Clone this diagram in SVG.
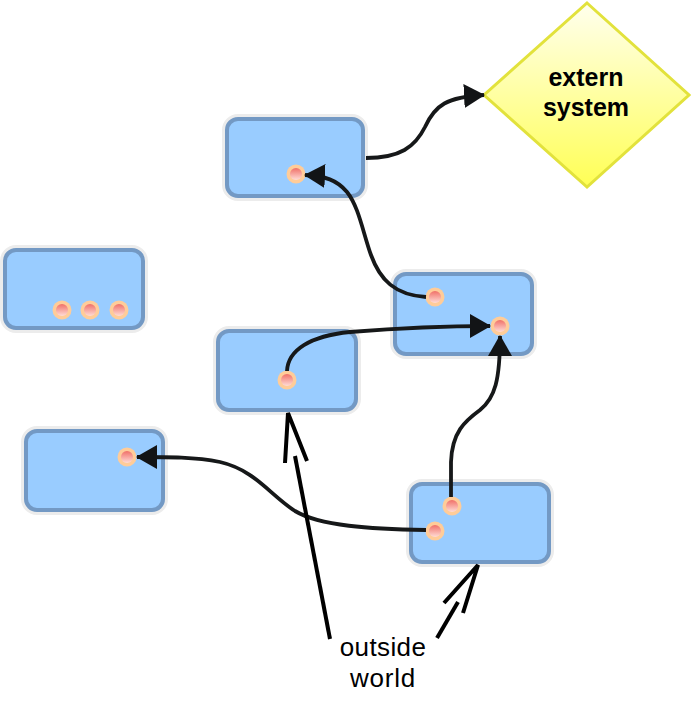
<svg xmlns="http://www.w3.org/2000/svg" width="691" height="724" viewBox="0 0 691 724">
<defs>
<linearGradient id="portGrad" x1="0" y1="0" x2="0" y2="1">
<stop offset="0" stop-color="#f07068"/>
<stop offset="1" stop-color="#ffdcd6"/>
</linearGradient>
<linearGradient id="diaGrad" x1="0" y1="0" x2="0" y2="1">
<stop offset="0" stop-color="#ffffee"/>
<stop offset="1" stop-color="#ffff55"/>
</linearGradient>
<marker id="arr" viewBox="0 0 21 24" refX="20" refY="12" markerWidth="21" markerHeight="24" markerUnits="userSpaceOnUse" orient="auto">
<path d="M0,0 L21,12 L0,24 Z" fill="#121416"/>
</marker>
</defs>
<style>
.halo{fill:none;stroke:#ececec;stroke-width:10}
.box{fill:#99ccff;stroke:#7399c4;stroke-width:4}
.port-o{fill:#ffcc99}
.port-i{fill:url(#portGrad)}
.conn{fill:none;stroke:#161819;stroke-width:3.8;stroke-linecap:butt}
.hand{fill:none;stroke:#000;stroke-width:4;stroke-linecap:butt}
.lbl{font-family:"Liberation Sans",Arial,sans-serif;fill:#000;text-anchor:middle}
</style>

<g id="extern-system">
<polygon points="587,3 689,95 587,187 484,95" fill="url(#diaGrad)" stroke="#e2e23c" stroke-width="3"/>
<text class="lbl" x="586" y="86" font-size="25" font-weight="bold">extern</text>
<text class="lbl" x="586" y="116" font-size="25" font-weight="bold">system</text>
</g>

<g id="node-a">
<rect class="halo" x="227" y="119" width="136" height="77" rx="11"/>
<rect class="box" x="227" y="119" width="136" height="77" rx="11"/>
<circle class="port-o" cx="296" cy="174" r="9.5"/><circle class="port-i" cx="296" cy="174" r="6"/>
</g>

<g id="node-b">
<rect class="halo" x="5" y="250" width="138" height="78" rx="11"/>
<rect class="box" x="5" y="250" width="138" height="78" rx="11"/>
<circle class="port-o" cx="62" cy="310" r="9.5"/><circle class="port-i" cx="62" cy="310" r="6"/>
<circle class="port-o" cx="90" cy="310" r="9.5"/><circle class="port-i" cx="90" cy="310" r="6"/>
<circle class="port-o" cx="119" cy="310" r="9.5"/><circle class="port-i" cx="119" cy="310" r="6"/>
</g>

<g id="node-c">
<rect class="halo" x="395" y="274" width="137" height="80" rx="11"/>
<rect class="box" x="395" y="274" width="137" height="80" rx="11"/>
<circle class="port-o" cx="435" cy="297" r="9.5"/><circle class="port-i" cx="435" cy="297" r="6"/>
<circle class="port-o" cx="500" cy="326" r="9.5"/><circle class="port-i" cx="500" cy="326" r="6"/>
</g>

<g id="node-d">
<rect class="halo" x="218" y="331" width="138" height="79" rx="11"/>
<rect class="box" x="218" y="331" width="138" height="79" rx="11"/>
<circle class="port-o" cx="287" cy="380" r="9.5"/><circle class="port-i" cx="287" cy="380" r="6"/>
</g>

<g id="node-e">
<rect class="halo" x="26" y="431" width="137" height="79" rx="11"/>
<rect class="box" x="26" y="431" width="137" height="79" rx="11"/>
<circle class="port-o" cx="127" cy="457" r="9.5"/><circle class="port-i" cx="127" cy="457" r="6"/>
</g>

<g id="node-f">
<rect class="halo" x="411" y="484" width="138" height="78" rx="11"/>
<rect class="box" x="411" y="484" width="138" height="78" rx="11"/>
<circle class="port-o" cx="452" cy="506" r="9.5"/><circle class="port-i" cx="452" cy="506" r="6"/>
<circle class="port-o" cx="435" cy="531" r="9.5"/><circle class="port-i" cx="435" cy="531" r="6"/>
</g>

<g id="connectors">
<path class="conn" marker-end="url(#arr)" d="M366,158 C400,158 415,147 425,127 C435,105 447,97 484,95"/>
<path class="conn" marker-end="url(#arr)" d="M426,297 C395,295 380,280 371,255 C363,233 359,207 347,192 C337,180 325,176 305,175"/>
<path class="conn" marker-end="url(#arr)" d="M287,371 C288,350 310,336 350,332 C400,328 440,326 490,326"/>
<path class="conn" marker-end="url(#arr)" d="M451,497 L451,462 C452,432 465,421 480,410 C495,398 500,380 500,336"/>
<path class="conn" marker-end="url(#arr)" d="M426,530 C370,529 320,526 295,511 C270,495 255,470 220,462 C195,457 170,457 137,457"/>
</g>

<g id="outside-world">
<path class="hand" d="M330,639 L295,456"/>
<path class="hand" d="M285,463 L288,413 L307,461"/>
<path class="hand" d="M437,638 L458,602"/>
<path class="hand" d="M444,603 L478,565 L463,613"/>
<text class="lbl" x="383" y="656" font-size="26" letter-spacing="0.4">outside</text>
<text class="lbl" x="383" y="687" font-size="26" letter-spacing="0.8">world</text>
</g>
</svg>
